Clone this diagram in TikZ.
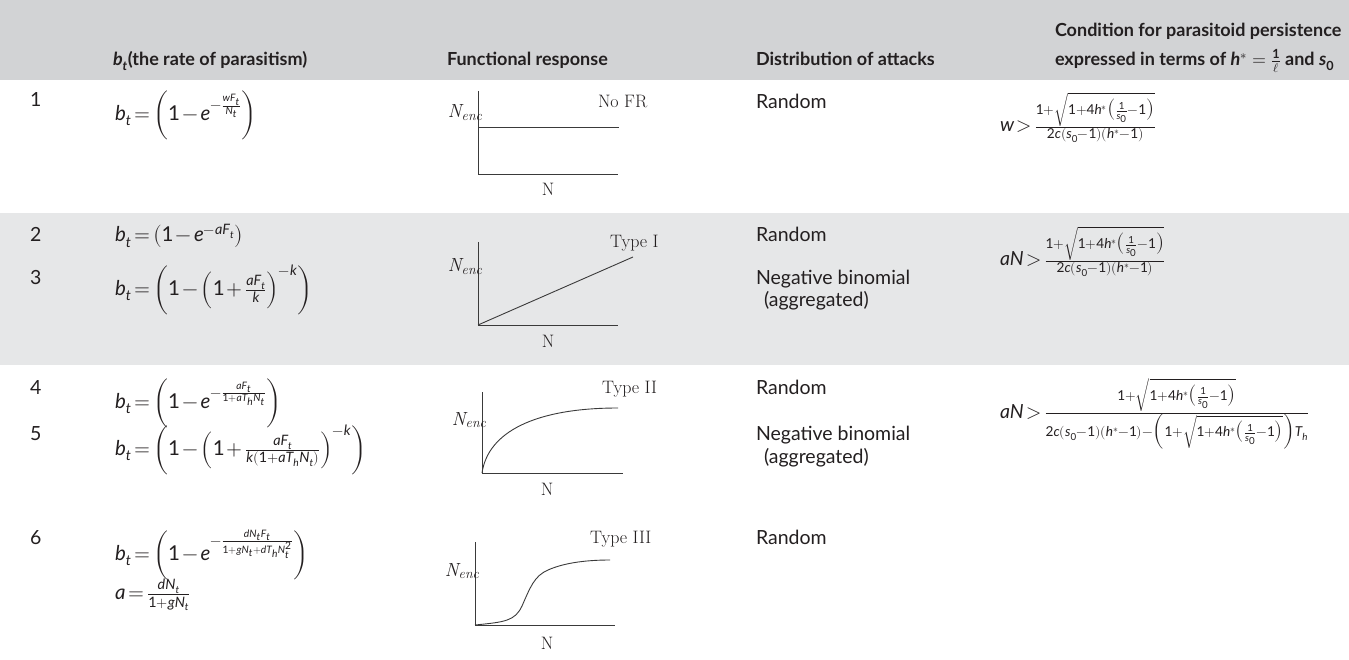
\documentclass[tikz,border=0pt]{standalone}
\usepackage{unicode-math}
\setmainfont{Lato}
\setmathfont{Latin Modern Math}
\setmathfont{Lato Italic}[range=it]
\setmathfont{Lato}[range={up/num}]
\setmathfont{Lato Bold Italic}[range=bfit]
\setmathfont{Lato Bold}[range={bfup/num}]
\newcommand{\lmrfont}{\fontfamily{lmr}\selectfont}
\newcommand{\nenc}{{\lmrfont\fontsize{19}{20}\selectfont\itshape N\raisebox{-0.3ex}{\fontsize{14}{14}\selectfont enc}}}
\newcommand{\tight}{\thickmuskip=2.5mu plus 1mu\medmuskip=2mu plus 1mu}
\definecolor{hdrgray}{HTML}{D2D3D5}
\definecolor{bandgray}{HTML}{E6E7E8}
\definecolor{ink}{HTML}{231F20}
\definecolor{axisc}{HTML}{3A3A3A}
\tikzset{
  txt/.style={font=\fontsize{19.5}{23}\selectfont\tight, text=ink, inner sep=0pt, outer sep=0pt},
  fml/.style={font=\fontsize{20.5}{24}\selectfont\tight, text=ink, inner sep=0pt, outer sep=0pt},
  hdr/.style={font=\bfseries\fontsize{18}{22}\selectfont, text=ink, inner sep=0pt, outer sep=0pt},
  serif/.style={font=\lmrfont\fontsize{18}{20}\selectfont, text=ink, inner sep=0pt, outer sep=0pt},
  plotline/.style={draw=axisc, line width=0.9pt},
}
\begin{document}
\begin{tikzpicture}[x=1pt,y=-1pt]
\useasboundingbox (0,0) rectangle (1349,660);
\fill[hdrgray] (0,0) rectangle (1349,80);
\fill[bandgray] (0,213) rectangle (1349,365);

% header
\node[hdr, anchor=base west] (hb) at (113,66) {$\symbfit{b}_{\symbfit{t}}$(the rate of parasitism)};
\node[hdr, anchor=base west] (hf) at (447,66) {Functional response};
\node[hdr, anchor=base west] (hd) at (756,66) {Distribution of attacks};
\node[hdr, anchor=base west] (hc1) at (1055,37) {Condition for parasitoid persistence};
\node[hdr, anchor=base west] (hc2) at (1055,66) {expressed in terms of $\symbfit{h}^{*}=\frac{\symbf{1}}{\ell}$ and $\symbfit{s}_{\symbf{0}}$};

% row numbers
\node[txt, anchor=base west] (n1) at (30,107) {1};
\node[txt, anchor=base west] (n2) at (30,242) {2};
\node[txt, anchor=base west] (n3) at (30,284) {3};
\node[txt, anchor=base west] (n4) at (30,394) {4};
\node[txt, anchor=base west] (n5) at (30,440) {5};
\node[txt, anchor=base west] (n6) at (30,544) {6};

% b_t formulas
\node[fml, anchor=west] (f1) at (115,115) {$b_t=\biggl(1-e^{-\frac{wF_t}{N_t}}\biggr)$};
\node[fml, anchor=base west] (f2) at (115,242) {$b_t=\bigl(1-e^{-aF_t}\bigr)$};
\node[fml, anchor=west] (f3) at (115,290) {$b_t=\biggl(1-\Bigl(1+\frac{aF_t}{k}\Bigr)^{-k}\biggr)$};
\node[fml, anchor=west] (f4) at (115,403) {$b_t=\biggl(1-e^{-\frac{aF_t}{1+aT_hN_t}}\biggr)$};
\node[fml, anchor=west] (f5) at (115,450) {$b_t=\biggl(1-\Bigl(1+\frac{aF_t}{k(1+aT_hN_t)}\Bigr)^{-k}\biggr)$};
\node[fml, anchor=west] (f6) at (115,555) {$b_t=\biggl(1-e^{-\frac{dN_tF_t}{1+gN_t+dT_hN_t^2}}\biggr)$};
\node[fml, anchor=west] (f6a) at (115,595) {$a=\frac{dN_t}{1+gN_t}$};

% graph 1: No FR
\draw[plotline] (478,91) -- (478,174) -- (618,174);
\draw[plotline] (478,127) -- (619,127);
\node[serif, anchor=base east] (g1y) at (482,118) {\nenc};
\node[serif, anchor=base west] (g1t) at (598,108) {No FR};
\node[serif, anchor=base] (g1x) at (548,196) {N};

% graph 2: Type I
\draw[plotline] (478,242) -- (478,325) -- (618,325);
\draw[plotline] (478,325) -- (633,257);
\node[serif, anchor=base east] (g2y) at (482,272) {\nenc};
\node[serif, anchor=base west] (g2t) at (610,248) {Type I};
\node[serif, anchor=base] (g2x) at (548,347) {N};

% graph 3: Type II
\draw[plotline] (482,392) -- (482,473) -- (623,473);
\draw[plotline] (482,473) .. controls (488,432) and (535,408) .. (618,408);
\node[serif, anchor=base east] (g3y) at (486,425) {\nenc};
\node[serif, anchor=base west] (g3t) at (602,393) {Type II};
\node[serif, anchor=base] (g3x) at (547,495) {N};

% graph 4: Type III
\draw[plotline] (475,542) -- (475,625) -- (615,625);
\draw[plotline] (475,625) .. controls (505,622) and (515,621) .. (522,606)
  .. controls (530,588) and (534,576) .. (548,570)
  .. controls (566,562) and (590,560) .. (610,560);
\node[serif, anchor=base east] (g4y) at (479,576) {\nenc};
\node[serif, anchor=base west] (g4t) at (590,543) {Type III};
\node[serif, anchor=base] (g4x) at (547,649) {N};

% distribution
\node[txt, anchor=base west] (d1) at (756,109) {Random};
\node[txt, anchor=base west] (d2) at (756,242) {Random};
\node[txt, anchor=base west] (d3) at (756,284) {Negative binomial};
\node[txt, anchor=base west] (d3b) at (764,307) {(aggregated)};
\node[txt, anchor=base west] (d4) at (756,394) {Random};
\node[txt, anchor=base west] (d5) at (756,440) {Negative binomial};
\node[txt, anchor=base west] (d5b) at (764,463) {(aggregated)};
\node[txt, anchor=base west] (d6) at (756,544) {Random};

% conditions
\node[txt, anchor=base west] (c1) at (1000,132) {$w>\frac{1+\sqrt{1+4h^{*}\bigl(\frac{1}{s_0}-1\bigr)}}{2c(s_0-1)(h^{*}-1)}$};
\node[txt, anchor=base west] (c2) at (1000,266) {$aN>\frac{1+\sqrt{1+4h^{*}\bigl(\frac{1}{s_0}-1\bigr)}}{2c(s_0-1)(h^{*}-1)}$};
\node[txt, anchor=base west] (c4) at (1000,418) {$aN>\frac{1+\sqrt{1+4h^{*}\bigl(\frac{1}{s_0}-1\bigr)}}{2c(s_0-1)(h^{*}-1)-\Bigl(1+\sqrt{1+4h^{*}\bigl(\frac{1}{s_0}-1\bigr)}\Bigr)T_h}$};
\end{tikzpicture}
\end{document}
